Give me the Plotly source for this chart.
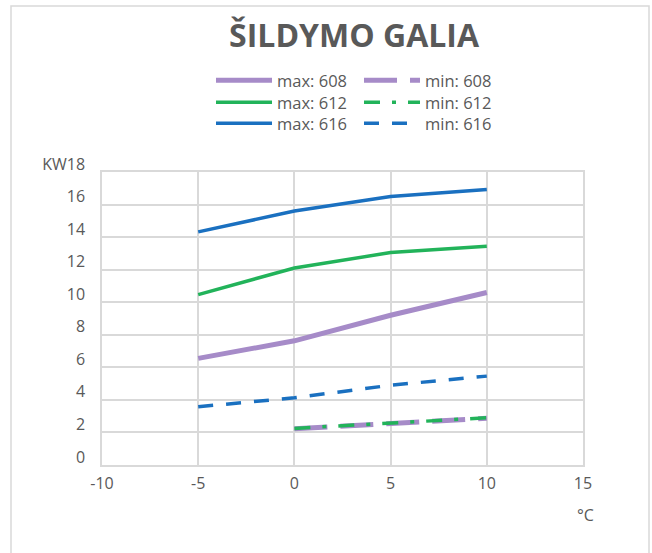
import plotly.graph_objects as go

temps = [-5, 0, 5, 10]
max_608 = [6.55, 7.63, 9.2, 10.6]
min_608 = [None, 2.22, 2.57, 2.87]
max_612 = [10.47, 12.1, 13.05, 13.44]
min_612 = [None, 2.25, 2.6, 2.9]
max_616 = [14.32, 15.6, 16.5, 16.93]
min_616 = [3.58, 4.13, 4.9, 5.46]

y_ticks = [0, 2, 4, 6, 8, 10, 12, 14, 16, 18]
y_ticktext = ["0", "2", "4", "6", "8", "10", "12", "14", "16", "KW18"]
x_ticks = [-10, -5, 0, 5, 10, 15]
x_ticktext = ["-10", "-5", "0", "5", "10", "15"]

PURPLE = "#A68BC8"
GREEN = "#22B35A"
BLUE = "#1A70C0"
TXT = "#595959"
GRID = "#D9D9D9"
FONT = "Open Sans"

fig = go.Figure()
fig.add_trace(go.Scatter(x=temps, y=max_608, name="max: 608", mode="lines",
                         line=dict(color=PURPLE, width=5), legend="legend"))
fig.add_trace(go.Scatter(x=temps, y=max_612, name="max: 612", mode="lines",
                         line=dict(color=GREEN, width=3.5), legend="legend2"))
fig.add_trace(go.Scatter(x=temps, y=max_616, name="max: 616", mode="lines",
                         line=dict(color=BLUE, width=3.5), legend="legend3"))
fig.add_trace(go.Scatter(x=temps, y=min_608, name="min: 608", mode="lines",
                         line=dict(color=PURPLE, width=5, dash="33px,13px"), legend="legend4"))
fig.add_trace(go.Scatter(x=temps, y=min_612, name="min: 612", mode="lines",
                         line=dict(color=GREEN, width=3.5, dash="16px,12px,4px,12px"), legend="legend5"))
fig.add_trace(go.Scatter(x=temps, y=min_616, name="min: 616", mode="lines",
                         line=dict(color=BLUE, width=3.5, dash="15px,13px"), legend="legend6"))

legend_common = dict(orientation="v", xanchor="left", yanchor="top",
                     font=dict(family=FONT, size=16.5, color=TXT),
                     itemwidth=56, bgcolor="rgba(0,0,0,0)", tracegroupgap=0,
                     traceorder="normal", itemclick=False, itemdoubleclick=False)

col_x = [211, 359]
row_top = [63, 85, 106]
legends = {}
names = ["legend", "legend2", "legend3", "legend4", "legend5", "legend6"]
for i, nm in enumerate(names):
    c, r = divmod(i, 3)
    legends[nm] = dict(x=(col_x[c] - 102) / 481, y=(465 - row_top[r]) / 293, **legend_common)

fig.update_layout(
    width=652, height=553,
    margin=dict(l=102, r=69, t=172, b=88, autoexpand=False),
    paper_bgcolor="white", plot_bgcolor="white",
    title=dict(text="<b>ŠILDYMO GALIA</b>", x=0.543, xanchor="center", y=0.935, yanchor="middle",
               font=dict(family=FONT, size=32, color=TXT)),
    xaxis=dict(range=[-10, 15], tickvals=x_ticks, ticktext=x_ticktext, showgrid=True, gridcolor=GRID,
               gridwidth=1.5, zeroline=False, showline=True, linecolor=GRID, linewidth=1.5, mirror=True,
               ticks="", tickfont=dict(family=FONT, size=16, color=TXT), ticklabelstandoff=3),
    yaxis=dict(range=[0, 18], tickvals=y_ticks, ticktext=y_ticktext, showgrid=True, gridcolor=GRID,
               gridwidth=1.5, zeroline=False, showline=True, linecolor=GRID, linewidth=1.5, mirror=True,
               ticks="", tickfont=dict(family=FONT, size=16, color=TXT), ticklabelstandoff=12,
               ticklabelshift=-8),
    annotations=[dict(text="°C", x=(585 - 102) / 481, y=(465 - 515) / 293, xref="paper", yref="paper",
                      showarrow=False, xanchor="center", yanchor="middle",
                      font=dict(family=FONT, size=16, color=TXT))],
    shapes=[dict(type="rect", xref="paper", yref="paper",
                 x0=(11 - 102) / 481, x1=(649 - 102) / 481,
                 y0=(465 - 570) / 293, y1=(465 - 6) / 293,
                 line=dict(color=GRID, width=1.5), fillcolor="rgba(0,0,0,0)", layer="below")],
    showlegend=True,
    **legends,
)

fig.write_html("out.html", config={"displayModeBar": False},
               post_script="document.body.style.margin='0';")
